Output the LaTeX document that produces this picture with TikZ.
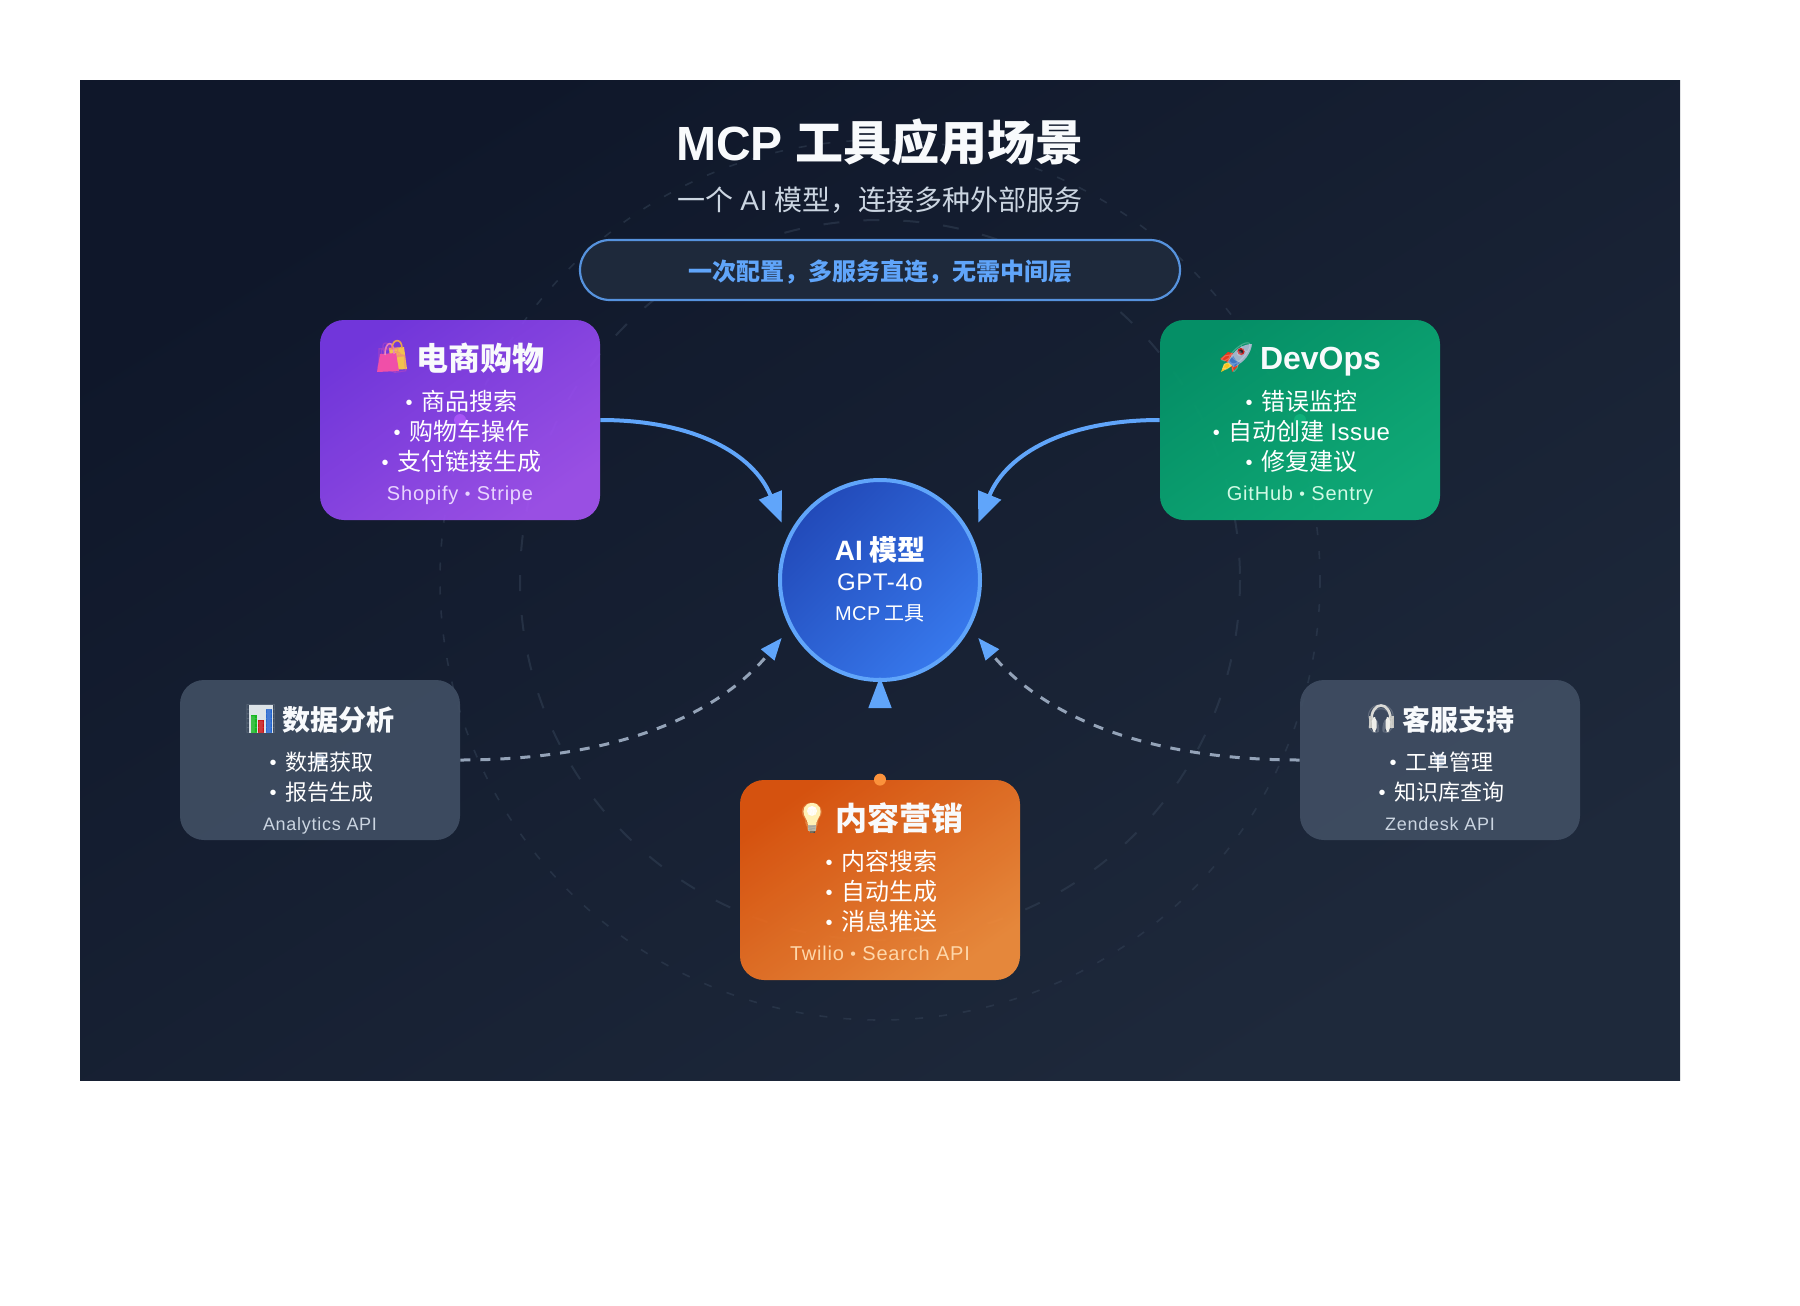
\documentclass[tikz,border=0pt]{standalone}
\usepackage{fontspec}
\usetikzlibrary{arrows.meta}
\setmainfont{Liberation Sans}
\newfontfamily\cjk{Noto Sans CJK SC}
\newfontfamily\lat[LetterSpace=2.5,BoldFeatures={LetterSpace=0}]{Liberation Sans}
\newfontfamily\latw[LetterSpace=4]{Liberation Sans}
\newfontfamily\emo{Noto Emoji}
\definecolor{bgA}{HTML}{0F172A}\definecolor{bgB}{HTML}{1E293B}
\definecolor{ringc}{HTML}{334155}
\definecolor{blueL}{HTML}{60A5FA}
\definecolor{dashc}{HTML}{94A3B8}
\definecolor{purA}{HTML}{7C3AED}\definecolor{purB}{HTML}{A855F7}
\definecolor{grnA}{HTML}{059669}\definecolor{grnB}{HTML}{0FB07A}
\definecolor{orgA}{HTML}{EA580C}\definecolor{orgB}{HTML}{FB923C}
\definecolor{gryA}{HTML}{414F64}
\definecolor{aiA}{HTML}{224AB9}\definecolor{aiB}{HTML}{3778EC}
\definecolor{subc}{HTML}{CBD5E1}
\definecolor{ttlc}{HTML}{F8FAFC}
\definecolor{ftP}{HTML}{E9D5FF}\definecolor{ftG}{HTML}{D1FAE5}\definecolor{ftO}{HTML}{FED7AA}
\definecolor{bagY}{HTML}{F2C14E}\definecolor{bagP}{HTML}{F04FA8}\definecolor{bagH}{HTML}{E88BC0}\definecolor{bagO}{HTML}{E8A24E}
\definecolor{rkR}{HTML}{E53B1E}\definecolor{rkY}{HTML}{F6C51E}\definecolor{rkS}{HTML}{9FB4C8}\definecolor{rkB}{HTML}{3E78C4}\definecolor{rkW}{HTML}{C81E1E}\definecolor{rkD}{HTML}{20242C}
\definecolor{blbY}{HTML}{FFF1B5}\definecolor{blbS}{HTML}{A7A7A0}\definecolor{blbD}{HTML}{4A4A48}
\definecolor{chtB}{HTML}{DCE3E8}\definecolor{chtG}{HTML}{14B81E}\definecolor{chtR}{HTML}{C81010}\definecolor{chtU}{HTML}{1E62D0}
\definecolor{hdA}{HTML}{D8D8D4}\definecolor{hdB}{HTML}{C4C4BE}\definecolor{hdC}{HTML}{EDEDE8}
\tikzset{
  cardbox/.style={rectangle,rounded corners=12pt,minimum width=140pt,minimum height=100pt,inner sep=0pt,opacity=.9},
  graybox/.style={rectangle,rounded corners=12pt,minimum width=140pt,minimum height=80pt,inner sep=0pt,opacity=.9,fill=gryA},
  txt/.style={inner sep=0pt,outer sep=0pt,anchor=base},
  ctitle/.style={txt,anchor=base west,text=ttlc,font=\fontsize{16}{16}\selectfont\bfseries\cjk},
  gtitle/.style={txt,anchor=base west,text=ttlc,font=\fontsize{14}{14}\selectfont\bfseries\cjk},
  cline/.style={txt,text=white,font=\fontsize{12}{12}\selectfont\cjk},
  gline/.style={txt,text=white,font=\fontsize{11}{11}\selectfont\cjk},
  cfoot/.style={txt,font=\fontsize{10}{10}\selectfont\latw},
  gfoot/.style={txt,text=subc,font=\fontsize{9}{9}\selectfont\latw},
  ringA/.style={draw=ringc,line width=1pt,dash pattern=on 8pt off 12pt,opacity=.55},
  ringB/.style={draw=ringc,line width=.8pt,dash pattern=on 4pt off 8pt,opacity=.55},
  solidflow/.style={draw=blueL,line width=2pt,-{Triangle[length=15pt,width=12pt]}},
  dashflow/.style={draw=dashc,line width=1.5pt,dash pattern=on 5pt off 5pt,-{Triangle[length=11pt,width=8.5pt,color=blueL,fill=blueL]}},
  emoji/.style={inner sep=0pt,outer sep=0pt,anchor=center},
}
\newcommand{\bul}{\hspace*{1.5pt}{\lat\raisebox{.4pt}{\fontsize{10}{10}\selectfont •}}\hspace{1.8pt} }
\newcommand{\fbul}{\raisebox{.5pt}{\fontsize{8}{8}\selectfont •}}
\begin{document}
\begin{tikzpicture}[x=.5pt,y=-.5pt]
\useasboundingbox (0,0) rectangle (1800,1306);
\fill[white] (0,0) rectangle (1800,1306);
\shade[top color=bgA,bottom color=bgB,shading angle=32] (80,80) rectangle (1680,1080);
% rings
\coordinate (hub) at (880,580);
\draw[ringA] (hub) circle[radius=360];
\draw[ringB] (hub) circle[radius=440];
% header
\node[txt,text=ttlc,font=\fontsize{24}{24}\selectfont\bfseries\cjk] (title) at (880,160) {{\lat MCP}\hspace{1pt} 工具应用场景};
\node[txt,text=subc,font=\fontsize{14}{14}\selectfont\cjk] (subtitle) at (880,210) {一个\hspace{.5pt} {\lat AI}\hspace{.5pt} 模型，连接多种外部服务};
\node[rectangle,rounded corners=15pt,minimum width=300pt,minimum height=30pt,inner sep=0pt,fill=bgB,draw=blueL!85!bgB,line width=1.1pt] (pill) at (880,270) {};
\node[txt,text=blueL,font=\fontsize{12}{12}\selectfont\bfseries\cjk] (pilltext) at (880,280) {一次配置，多服务直连，无需中间层};
% cards
\node[cardbox,top color=purA,bottom color=purB,shading angle=35.5] (shop) at (460,420) {};
\node[cardbox,top color=grnA,bottom color=grnB,shading angle=35.5,opacity=.95] (dev) at (1300,420) {};
\node[cardbox,top color=orgA,bottom color=orgB,shading angle=35.5] (mkt) at (880,880) {};
\node[graybox] (data) at (320,760) {};
\node[graybox] (help) at (1440,760) {};
% anchor dots
\fill[purB] (shop.center) circle[radius=6];
\fill[grnB] (dev.center) circle[radius=6];
\fill[dashc] (data.center) circle[radius=6];
\fill[dashc] (help.center) circle[radius=6];
\fill[orgB] (mkt.north) circle[radius=6];
% hub
\node[circle,minimum size=100pt,inner sep=0pt,draw=blueL,line width=2pt,top color=aiA,bottom color=aiB,shading angle=45] (ai) at (hub) {};
\node[txt,text=white,font=\fontsize{14}{14}\selectfont\bfseries\cjk] (ai1) at (880,560) {{\lat AI} 模型};
\node[txt,text=white,font=\fontsize{12}{12}\selectfont\lat] (ai2) at (880,590) {GPT-4o};
\node[txt,text=white,font=\fontsize{10}{10}\selectfont\cjk] (ai3) at (880,620) {{\lat MCP} 工具};
% connectors
\coordinate (tipA) at (781.7,522.7);
\coordinate (tipB) at (978.3,522.7);
\coordinate (tipC) at (781.7,638);
\coordinate (tipD) at (978.3,638);
\draw[solidflow] (shop.east) .. controls (693.3,420) and (753.3,453.3) .. (tipA);
\draw[solidflow] (dev.west) .. controls (1066.7,420) and (1006.7,453.3) .. (tipB);
\draw[dashflow] (data.east) .. controls (606.7,760) and (713.3,720) .. (tipC);
\draw[dashflow] (help.west) .. controls (1153.3,760) and (1046.7,720) .. (tipD);
\coordinate (tipE) at (880,677);
\fill[blueL] (tipE) -- (891.7,708) -- (868.3,708) -- cycle;
% shop text
\fill[bagY] (389,348) -- (404,347) -- (407,369) -- (391,370) -- cycle;
\fill[bagP] (380,354) -- (396,353) -- (399,371) -- (377,372) -- cycle;
\draw[bagH,line width=.8pt] (385,355) .. controls (385,340) and (394,340) .. (394,354);
\draw[bagO,line width=.8pt] (392,349) .. controls (392,338) and (402,338) .. (402,348);
\node[emoji,text=bagP,font=\emo\fontsize{15}{15}\selectfont,opacity=.35] (e1) at (392,358) {🛍};
\node[ctitle] (t1) at (416,370) {电商购物};
\node[cline] (t1a) at (460,410) {\bul 商品搜索};
\node[cline] (t1b) at (460,440) {\bul 购物车操作};
\node[cline] (t1c) at (460,470) {\bul 支付链接生成};
\node[cfoot,text=ftP] (t1d) at (460,500) {Shopify \fbul{} Stripe};
% dev text
\fill[rkR] (1230,363) -- (1220,359) -- (1228,352) -- (1236,354) -- cycle;
\fill[rkR] (1232,372) -- (1231,363) -- (1240,358) -- (1238,366) -- cycle;
\fill[rkY] (1221,372) -- (1224,364) -- (1232,361) -- (1234,365) -- cycle;
\fill[rkS] (1252,344) .. controls (1243,344) and (1233,350) .. (1228,362) -- (1234,367) .. controls (1245,362) and (1251,353) .. (1252,344) -- cycle;
\fill[rkB] (1234,367) -- (1228,362) -- (1233,356) .. controls (1236,361) and (1238,362) .. (1240,363) -- cycle;
\fill[rkW] (1241,351.5) circle[radius=3.6];
\fill[rkD] (1241,351.5) circle[radius=2];
\node[emoji,text=white,font=\emo\fontsize{15}{15}\selectfont,opacity=.25] (e2) at (1236,358) {🚀};
\node[ctitle] (t2) at (1260,369.5) {{\lat DevOps}};
\node[cline] (t2a) at (1300,410) {\bul 错误监控};
\node[cline] (t2b) at (1300,440) {\bul 自动创建 {\lat Issue}};
\node[cline] (t2c) at (1300,470) {\bul 修复建议};
\node[cfoot,text=ftG] (t2d) at (1300,500) {GitHub \fbul{} Sentry};
% marketing text
\fill[blbY] (812,803) .. controls (820,803) and (822,811) .. (820,815) .. controls (818,819) and (816,822) .. (816,826) -- (808,826) .. controls (808,822) and (806,819) .. (804,815) .. controls (802,811) and (804,803) .. (812,803) -- cycle;
\fill[white] (812,811) circle[radius=5];
\fill[blbS] (808,825) rectangle (816,831);
\fill[blbD] (809.5,831) rectangle (814.5,833);
\node[emoji,text=blbY,font=\emo\fontsize{15}{15}\selectfont,opacity=.25] (e3) at (812,818) {💡};
\node[ctitle] (t3) at (835,830) {内容营销};
\node[cline] (t3a) at (880,870) {\bul 内容搜索};
\node[cline] (t3b) at (880,900) {\bul 自动生成};
\node[cline] (t3c) at (880,930) {\bul 消息推送};
\node[cfoot,text=ftO] (t3d) at (880,960) {Twilio \fbul{} Search API};
% data text
\fill[chtB] (249,705) rectangle (273,733);
\fill[chtG] (251,715) rectangle (256.5,733);
\fill[chtR] (258,720) rectangle (264,733);
\fill[chtU] (266,709) rectangle (271.5,733);
\node[emoji,text=chtB,font=\emo\fontsize{14}{14}\selectfont,opacity=.2] (e4) at (261,719) {📊};
\node[gtitle] (t4) at (282,730) {数据分析};
\node[gline] (t4a) at (320,770) {\bul 数据获取};
\node[gline] (t4b) at (320,800) {\bul 报告生成};
\node[gfoot] (t4c) at (320,830) {Analytics API};
% help text
\draw[hdA,line width=1.3pt] (1371.5,722) .. controls (1370,700) and (1392,700) .. (1390.5,722);
\fill[hdB] (1368.5,716) rectangle (1372,728);
\fill[hdB] (1390,716) rectangle (1393.5,728);
\fill[hdC,rounded corners=2pt] (1372,717) rectangle (1376.5,732);
\fill[hdC,rounded corners=2pt] (1385.5,717) rectangle (1390,732);
\node[emoji,text=white,font=\emo\fontsize{14}{14}\selectfont,opacity=.2] (e5) at (1381,719) {🎧};
\node[gtitle] (t5) at (1402,730) {客服支持};
\node[gline] (t5a) at (1440,770) {\bul 工单管理};
\node[gline] (t5b) at (1440,800) {\bul 知识库查询};
\node[gfoot] (t5c) at (1440,830) {Zendesk API};
\end{tikzpicture}
\end{document}
